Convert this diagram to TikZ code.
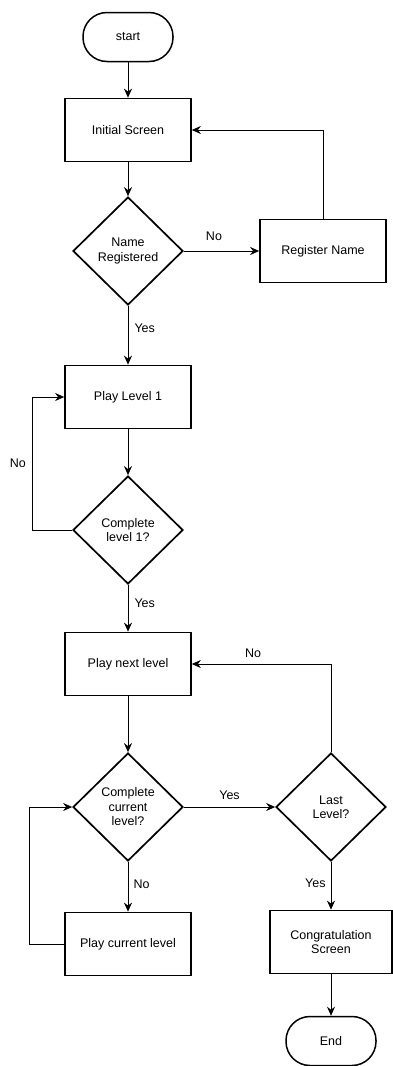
\documentclass[tikz,border=0pt]{standalone}
\usepackage{fontspec}
\setmainfont{Liberation Sans}
\usetikzlibrary{shapes.geometric,arrows.meta}

\tikzset{
    terminal/.style={draw,line width=1.5pt,rounded corners=24pt,minimum width=90pt,minimum height=49pt,inner sep=0},
    process/.style={draw,line width=1.7pt,minimum width=126pt,minimum height=63pt,align=center,inner sep=0},
    decision/.style={draw,diamond,line width=1.7pt,minimum width=110pt,minimum height=108pt,align=center,inner sep=0},
    arr/.style={line width=1pt,-{Stealth[length=9pt,width=8pt]}},
    looparr/.style={line width=0.8pt,-{Stealth[length=9pt,width=8pt]}},
    lbl/.style={inner sep=2pt}
}

\begin{document}
\begin{tikzpicture}[x=1pt,y=-1pt,font=\fontsize{12.5}{14.5}\selectfont]
    \useasboundingbox (0,0) rectangle (392,1066);
    % left column
    \node[terminal] (start) at (128,37) {start};
    \node[process] (init) at (128,130) {Initial Screen};
    \node[decision] (named) at (128,251) {Name\\Registered};
    \node[process] (play1) at (128,397) {Play Level 1};
    \node[decision] (done1) at (128,530) {Complete\\level 1?};
    \node[process] (next) at (128,664) {Play next level};
    \node[decision] (donecur) at (128,807) {Complete\\current\\level?};
    \node[process] (playcur) at (128,944) {Play current level};
    % right column
    \node[process] (reg) at (323,251) {Register Name};
    \node[decision] (last) at (331,807) {Last\\Level?};
    \node[process,minimum width=122pt] (congrats) at (331,942) {Congratulation\\Screen};
    \node[terminal] (finish) at (331,1041) {End};

    \draw[looparr] (start) -- (init);
    \draw[arr] (init) -- (named);
    \draw[arr] (named) -- node[lbl,above=8pt,pos=0.4] {No} (reg);
    \draw[looparr] (reg.north) |- (init.east);
    \draw[arr] (named) -- node[lbl,right=4pt,pos=0.38] {Yes} (play1);
    \draw[arr] (play1) -- (done1);
    \draw[looparr] (done1.west) -- ++(-40,0) |- node[lbl,left=4pt,pos=0.25] {No} (play1.west);
    \draw[arr] (done1) -- node[lbl,right=4pt,pos=0.4] {Yes} (next);
    \draw[arr] (next) -- (donecur);
    \draw[arr] (donecur) -- node[lbl,above=5pt,pos=0.5] {Yes} (last);
    \draw[looparr] (last.north) |- node[lbl,above=4pt,pos=0.78] {No} (next.east);
    \draw[arr] (donecur) -- node[lbl,right=3pt,pos=0.45] {No} (playcur);
    \draw[looparr] (playcur.west) -- ++(-35,0) |- (donecur.west);
    \draw[arr] (last) -- node[lbl,left=3pt,pos=0.45] {Yes} (congrats);
    \draw[looparr] (congrats) -- (finish);
\end{tikzpicture}
\end{document}
